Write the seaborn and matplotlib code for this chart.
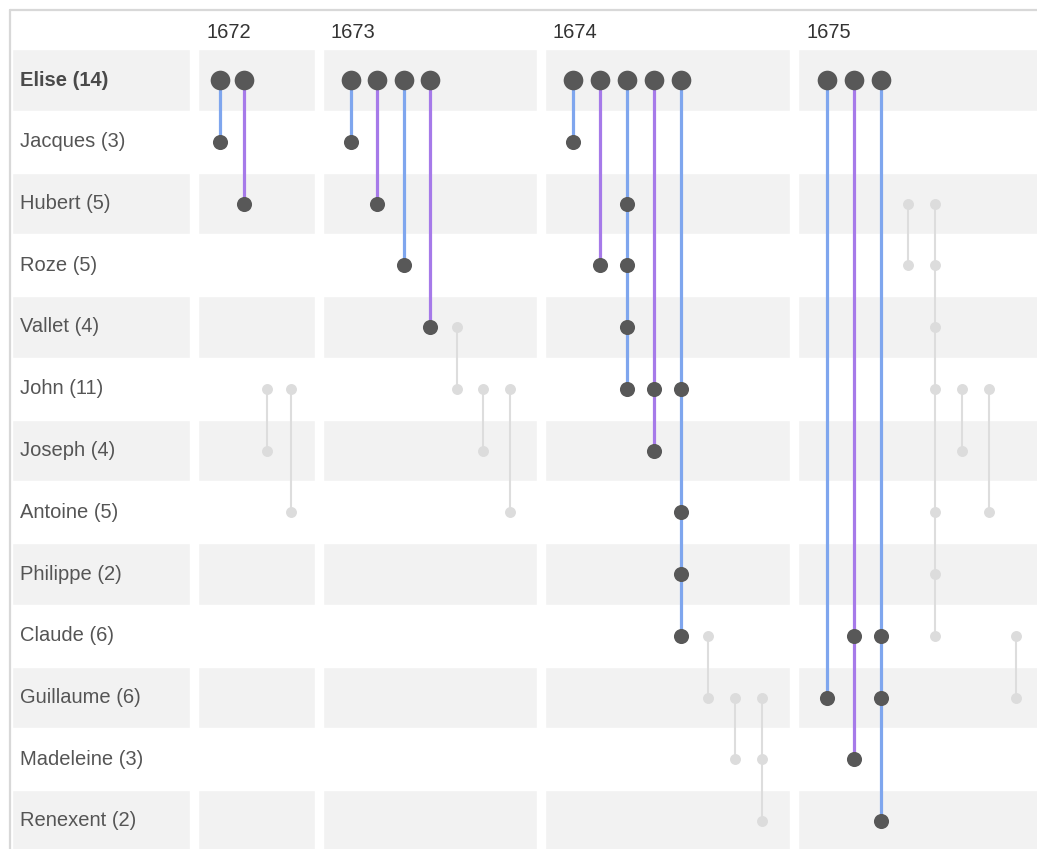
import matplotlib.pyplot as plt
import pandas as pd
import seaborn as sns

# people (rows, top to bottom) and their letter counts
NAMES = ["Elise", "Jacques", "Hubert", "Roze", "Vallet", "John", "Joseph",
         "Antoine", "Philippe", "Claude", "Guillaume", "Madeleine", "Renexent"]
COUNTS = [14, 3, 5, 5, 4, 11, 4, 5, 2, 6, 6, 3, 2]

YEARS = [1672, 1673, 1674, 1675]

# one entry per exchange, in column order
EVENT_YEAR = [1672] * 4 + [1673] * 7 + [1674] * 8 + [1675] * 8
EVENT_KIND = [
    "blue", "purple", "gray", "gray",
    "blue", "purple", "blue", "purple", "gray", "gray", "gray",
    "blue", "purple", "blue", "purple", "blue", "gray", "gray", "gray",
    "blue", "purple", "blue", "gray", "gray", "gray", "gray", "gray",
]
EVENT_MEMBERS = [
    ["Elise", "Jacques"],
    ["Elise", "Hubert"],
    ["John", "Joseph"],
    ["John", "Antoine"],
    ["Elise", "Jacques"],
    ["Elise", "Hubert"],
    ["Elise", "Roze"],
    ["Elise", "Vallet"],
    ["Vallet", "John"],
    ["John", "Joseph"],
    ["John", "Antoine"],
    ["Elise", "Jacques"],
    ["Elise", "Roze"],
    ["Elise", "Hubert", "Roze", "Vallet", "John"],
    ["Elise", "John", "Joseph"],
    ["Elise", "John", "Antoine", "Philippe", "Claude"],
    ["Claude", "Guillaume"],
    ["Guillaume", "Madeleine"],
    ["Guillaume", "Madeleine", "Renexent"],
    ["Elise", "Guillaume"],
    ["Elise", "Claude", "Madeleine"],
    ["Elise", "Claude", "Guillaume", "Renexent"],
    ["Hubert", "Roze"],
    ["Hubert", "Roze", "Vallet", "John", "Antoine", "Philippe", "Claude"],
    ["John", "Joseph"],
    ["John", "Antoine"],
    ["Claude", "Guillaume"],
]

# layout (pixel space)
W, H = 1037, 849
ROW_Y0, ROW_H = 80, 61.75
LABEL_X0, LABEL_X1 = 12, 190
GROUP_X0 = {1672: 198, 1673: 323, 1674: 545, 1675: 798}
GROUP_X1 = {1672: 315, 1673: 537, 1674: 790, 1675: 1045}
FIRST_DX = {1672: 22, 1673: 27.5, 1674: 28, 1675: 29}
SLOT_W = {1672: 23.5, 1673: 26.5, 1674: 27, 1675: 27}

PALETTE = {"blue": "#7fa6ee", "purple": "#a67ae9", "gray": "#dddddd"}
BAND = "#f2f2f2"
DARK_DOT = "#585858"
LIGHT_DOT = "#dcdcdc"


def build_points() -> pd.DataFrame:
    rows = []
    slot = {y: 0 for y in YEARS}
    for i, (year, kind, members) in enumerate(zip(EVENT_YEAR, EVENT_KIND, EVENT_MEMBERS)):
        x = GROUP_X0[year] + FIRST_DX[year] + slot[year] * SLOT_W[year]
        slot[year] += 1
        for name in members:
            r = NAMES.index(name)
            rows.append({"event": i, "kind": kind, "name": name,
                         "x": x, "y": ROW_Y0 + r * ROW_H})
    return pd.DataFrame(rows)


pts = build_points()
ends = pts.groupby("event").agg(x=("x", "first"), kind=("kind", "first"),
                                top=("y", "min"), bottom=("y", "max")).reset_index()
segs = ends.melt(id_vars=["event", "x", "kind"], value_vars=["top", "bottom"],
                 value_name="y")

sns.set_style("white")
plt.rcParams["font.family"] = ["Liberation Sans", "DejaVu Sans"]

fig = plt.figure(figsize=(W / 100, H / 100), dpi=100)
ax = fig.add_axes([0, 0, 1, 1])
ax.set_xlim(0, W)
ax.set_ylim(H, 0)
ax.axis("off")

# striped row bands, cut by white gaps between the year blocks
blocks = [(LABEL_X0, LABEL_X1 - LABEL_X0)] + [(GROUP_X0[y], GROUP_X1[y] - GROUP_X0[y]) for y in YEARS]
for r in range(0, len(NAMES), 2):
    ax.broken_barh(blocks, (ROW_Y0 + r * ROW_H - ROW_H / 2, ROW_H), facecolors=BAND, zorder=0)

# frame on top and left
ax.plot([10, W], [10, 10], color="#d8d8d8", lw=1.6, zorder=1)
ax.plot([10, 10], [10, H], color="#d8d8d8", lw=1.6, zorder=1)

gray_segs = segs[segs["kind"] == "gray"]
color_segs = segs[segs["kind"] != "gray"]
sns.lineplot(data=gray_segs, x="x", y="y", units="event", estimator=None, sort=False,
             hue="kind", palette=PALETTE, linewidth=1.5, legend=False, ax=ax, zorder=2)
sns.scatterplot(data=pts[pts["kind"] == "gray"], x="x", y="y", color=LIGHT_DOT,
                s=62, linewidth=0, ax=ax, zorder=3)
sns.lineplot(data=color_segs, x="x", y="y", units="event", estimator=None, sort=False,
             hue="kind", palette=PALETTE, linewidth=2.3, legend=False, ax=ax, zorder=4)
dark = pts[pts["kind"] != "gray"]
sns.scatterplot(data=dark[dark["name"] != "Elise"], x="x", y="y", color=DARK_DOT,
                s=118, linewidth=0, ax=ax, zorder=5)
sns.scatterplot(data=dark[dark["name"] == "Elise"], x="x", y="y", color=DARK_DOT,
                s=200, linewidth=0, ax=ax, zorder=5)
ax.set_xlim(0, W)
ax.set_ylim(H, 0)
ax.axis("off")

for r, (name, count) in enumerate(zip(NAMES, COUNTS)):
    bold = r == 0
    ax.text(20, ROW_Y0 + r * ROW_H, f"{name} ({count})", fontsize=14.5,
            fontweight="bold" if bold else "normal",
            color="#4a4a4a" if bold else "#555555", va="center", ha="left", zorder=6)

for y in YEARS:
    ax.text(GROUP_X0[y] + 8, 32, str(y), fontsize=14.5, color="#333333",
            va="center", ha="left", zorder=6)

fig.savefig("out.png", dpi=100)
